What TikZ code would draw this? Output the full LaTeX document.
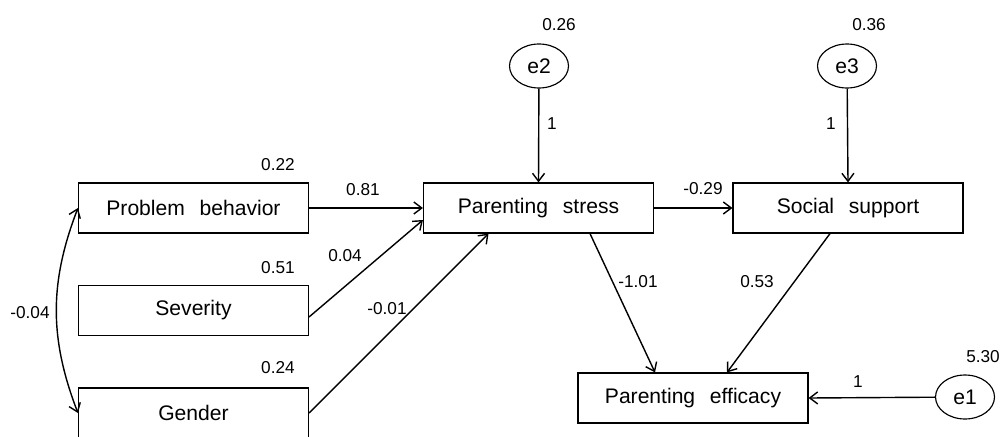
\documentclass[tikz,border=0pt]{standalone}
\usepackage{fontspec}
\setmainfont{Liberation Sans}
\usetikzlibrary{arrows.meta,shapes.geometric}

\tikzset{
	var/.style={draw, line width=0.65pt, minimum width=4.6cm, minimum height=1cm, inner sep=0pt,
		font=\fontsize{12}{14}\selectfont},
	err/.style={draw, ellipse, line width=0.65pt, minimum width=1.18cm, minimum height=0.88cm, inner sep=0pt,
		font=\fontsize{12}{14}\selectfont},
	coef/.style={inner sep=0pt, font=\fontsize{9.8}{11}\selectfont},
	effect/.style={line width=0.8pt, -{Straight Barb[length=1.6mm,width=2.4mm]}}
}

\begin{document}
\begin{tikzpicture}[x=0.02cm, y=-0.02cm]
	\useasboundingbox (0,0) rectangle (1003,436);

	% Variables exogenas
	\node[var] (pb)  at (193.5,208)   {Problem\hspace{0.7em}behavior};
	\node[var] (sev) at (193.5,310.5) {Severity};
	\node[var] (gen) at (193.5,413)   {Gender};

	% Variables endogenas
	\node[var] (ps) at (538.5,208) {Parenting\hspace{0.7em}stress};
	\node[var] (ss) at (848,208)   {Social\hspace{0.7em}support};
	\node[var] (pe) at (693,398)   {Parenting\hspace{0.7em}efficacy};

	% Errores
	\node[err] (e2) at (539,66)  {e2};
	\node[err] (e3) at (847,66)  {e3};
	\node[err] (e1) at (965,397) {e1};

	% Varianzas
	\node[coef] (v22) at (278,165) {0.22};
	\node[coef] (v51) at (278,268) {0.51};
	\node[coef] (v24) at (278,368) {0.24};
	\node[coef] (v26) at (559,25)  {0.26};
	\node[coef] (v36) at (869,25)  {0.36};
	\node[coef] (v530) at (983,357) {5.30};

	% Covarianza
	\draw[line width=0.8pt, {Straight Barb[length=1.6mm,width=2.4mm]}-{Straight Barb[length=1.6mm,width=2.4mm]}]
		(pb.west) to[bend right=21] (gen.west);
	\node[coef] (c04) at (30,313) {-0.04};

	% Caminos
	\draw[effect] (pb.east) -- (ps.west);
	\node[coef] (l81) at (363,190) {0.81};
	\draw[effect] ([yshift=-0.13cm]sev.east) -- ([yshift=-0.24cm]ps.west);
	\node[coef] (l04) at (345,256) {0.04};
	\draw[effect] (gen.east) -- ([xshift=-1cm]ps.south);
	\node[coef] (l01) at (387,309) {-0.01};

	\draw[effect] (ps.east) -- (ss.west);
	\node[coef] (l29) at (703,189) {-0.29};
	\draw[effect] ([xshift=1.03cm]ps.south) -- ([xshift=-0.76cm]pe.north);
	\node[coef] (l101) at (638,282) {-1.01};
	\draw[effect] ([xshift=-0.36cm]ss.south) -- ([xshift=0.68cm]pe.north);
	\node[coef] (l53) at (757,282) {0.53};

	% Caminos de error
	\draw[effect] (e2) -- (ps.north);
	\node[coef] (l1a) at (552,124) {1};
	\draw[effect] (e3) -- (ss.north);
	\node[coef] (l1b) at (831,124) {1};
	\draw[effect] (e1) -- (pe.east);
	\node[coef] (l1c) at (858,382) {1};
\end{tikzpicture}
\end{document}
